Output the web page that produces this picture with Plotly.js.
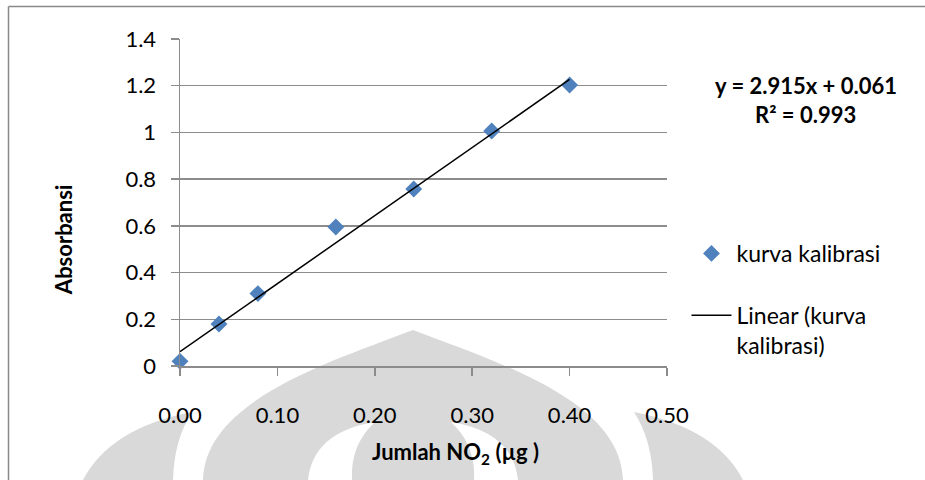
<!DOCTYPE html>
<html>
<head>
<meta charset="utf-8">
<script src="https://cdn.plot.ly/plotly-3.0.1.min.js"></script>
<style>
  html, body { margin: 0; padding: 0; background: #ffffff; overflow: hidden; }
  #wrap { position: relative; width: 925px; height: 480px; overflow: hidden; }
  #bg, #chart { position: absolute; left: 0; top: 0; width: 925px; height: 480px; }
</style>
</head>
<body>
<div id="wrap">
  <svg id="bg" width="925" height="480" xmlns="http://www.w3.org/2000/svg">
    <rect x="0" y="0" width="925" height="480" fill="#ffffff"/>
    <g fill="#d9d9d9">
      <path d="M 413 330 C 330 362, 205 400, 203 480 L 623 480 C 621 400, 496 362, 413 330 Z"/>
      <path d="M 192 412 Q 110 428 83 480 L 173 480 Q 174 440 192 412 Z"/>
      <path d="M 634 412 Q 716 428 743 480 L 653 480 Q 652 440 634 412 Z"/>
    </g>
    <g fill="#ffffff">
      <path d="M 375 422 Q 313 432 308 480 L 352 480 Q 350 445 375 422 Z"/>
      <path d="M 451 422 Q 513 432 518 480 L 474 480 Q 476 445 451 422 Z"/>
    </g>
    <line x1="8.5" y1="6.5" x2="925" y2="6.5" stroke="#898989" stroke-width="1.5"/>
    <line x1="8.5" y1="6.5" x2="8.5" y2="480" stroke="#898989" stroke-width="1.5"/>
  </svg>
  <div id="chart"></div>
</div>
<script>
// ---- data ----
const seriesName = "kurva kalibrasi";
const trendName = "Linear (kurva<br>kalibrasi)";
const amountNO2 = [0, 0.04, 0.08, 0.16, 0.24, 0.32, 0.40];
const absorbance = [0.02, 0.18, 0.31, 0.595, 0.758, 1.006, 1.203];
const trendX = [0, 0.40];
const trendY = [0.061, 1.227];
const equationText = "y = 2.915x + 0.061";
const r2Text = "R² = 0.993";
const xTitle = "Jumlah NO<sub>2</sub> (µg )";
const yTitle = "Absorbansi";

const FONT = "Lato, 'Open Sans', sans-serif";
const GRID = "#8c8c8c";

const traces = [
  {
    x: amountNO2, y: absorbance, type: "scatter", mode: "markers",
    name: seriesName, legendgroup: "a",
    marker: { symbol: "diamond", size: 13, color: "#4f81bd", line: { width: 0 } },
    cliponaxis: false, hoverinfo: "x+y"
  },
  {
    x: trendX, y: trendY, type: "scatter", mode: "lines",
    name: trendName, legendgroup: "b",
    line: { color: "#000000", width: 1.5 },
    cliponaxis: false, hoverinfo: "skip"
  }
];

const layout = {
  width: 925, height: 480,
  margin: { l: 180, r: 258, t: 39, b: 114, pad: 0 },
  paper_bgcolor: "rgba(0,0,0,0)",
  plot_bgcolor: "rgba(0,0,0,0)",
  font: { family: FONT, size: 22, color: "#000000" },
  showlegend: true,
  legend: {
    x: 1.04, xanchor: "left", y: 0.41, yanchor: "top",
    font: { family: FONT, size: 23, color: "#000000" },
    bgcolor: "rgba(0,0,0,0)", itemwidth: 40,
    traceorder: "grouped", tracegroupgap: 29, valign: "top"
  },
  xaxis: {
    range: [0, 0.5], dtick: 0.1, tick0: 0, tickformat: ".2f",
    ticks: "outside", ticklen: 8, tickwidth: 1.5, tickcolor: GRID,
    showline: true, linecolor: GRID, linewidth: 1.5,
    showgrid: false, zeroline: false,
    ticklabelstandoff: 21,
    tickfont: { family: FONT, size: 22, color: "#000000" }
  },
  yaxis: {
    range: [0, 1.4], dtick: 0.2, tick0: 0,
    ticks: "outside", ticklen: 8, tickwidth: 1.5, tickcolor: GRID,
    showline: true, linecolor: GRID, linewidth: 1.5,
    showgrid: true, gridcolor: GRID, gridwidth: 1.5, zeroline: false,
    ticklabelstandoff: 10,
    tickfont: { family: FONT, size: 22, color: "#000000" }
  },
  annotations: [
    { text: equationText, xref: "paper", yref: "paper", x: 1.2854, y: 0.859,
      xanchor: "center", yanchor: "middle", showarrow: false,
      font: { family: FONT, size: 22, color: "#000000", weight: "bold" } },
    { text: r2Text, xref: "paper", yref: "paper", x: 1.2854, y: 0.7676,
      xanchor: "center", yanchor: "middle", showarrow: false,
      font: { family: FONT, size: 22, color: "#000000", weight: "bold" } },
    { text: "<b>" + yTitle + "</b>", xref: "paper", yref: "paper", x: -0.2402, y: 0.385,
      xanchor: "center", yanchor: "middle", showarrow: false, textangle: -90,
      font: { family: FONT, size: 22, color: "#000000" } },
    { text: "<b>" + xTitle + "</b>", xref: "paper", yref: "paper", x: 0.5667, y: -0.266,
      xanchor: "center", yanchor: "middle", showarrow: false,
      font: { family: FONT, size: 22, color: "#000000" } }
  ]
};

Plotly.newPlot("chart", traces, layout, { displayModeBar: false, staticPlot: true });
</script>
</body>
</html>
